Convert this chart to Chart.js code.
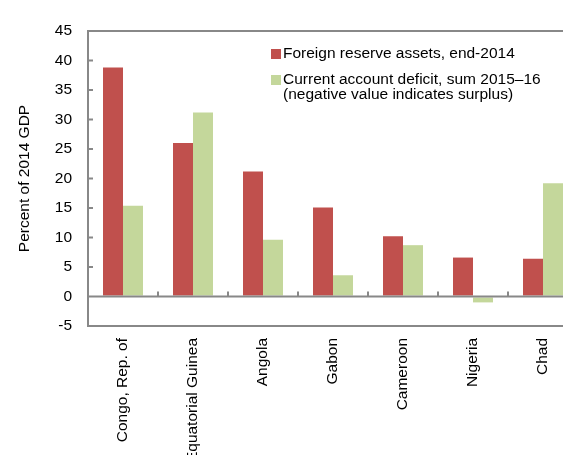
<!DOCTYPE html>
<html>
<head>
<meta charset="utf-8">
<script src="https://cdn.jsdelivr.net/npm/chart.js@4"></script>
<style>
  html, body { margin: 0; padding: 0; background: #fff; overflow: hidden; }
  #wrap { width: 600px; height: 455px; }
</style>
</head>
<body>
<div id="wrap"><canvas id="chart" width="600" height="455"></canvas></div>
<script>
// ── Data ──
const countries = ['Congo, Rep. of', 'Equatorial Guinea', 'Angola', 'Gabon', 'Cameroon', 'Nigeria', 'Chad'];
const reserves = [38.8, 26.0, 21.2, 15.1, 10.2, 6.6, 6.4];
const deficit = [15.4, 31.2, 9.6, 3.6, 8.7, -1.0, 19.2];
const yMin = -5;
const yMax = 45;
const yStep = 5;
const reservesLegend = ['Foreign reserve assets, end-2014'];
const deficitLegend = ['Current account deficit, sum 2015\u201316', '(negative value indicates surplus)'];

const FONT = '"Liberation Sans", Arial, sans-serif';
const FONT_SIZE = 15.5;
const AXIS_GREY = '#888888';
const RED = '#C0504D';
const GREEN = '#C4D79B';

Chart.defaults.font.family = FONT;
Chart.defaults.font.size = FONT_SIZE;
Chart.defaults.color = '#000';

// ── Axis decorations: inward ticks, zero line, category ticks ──
const axisDecor = {
  id: 'axisDecor',
  afterDatasetsDraw(chart) {
    const { ctx, chartArea, scales: { x, y } } = chart;
    const y0 = y.getPixelForValue(0);
    ctx.save();
    ctx.strokeStyle = AXIS_GREY;
    ctx.lineWidth = 2;
    ctx.beginPath();
    // zero line over the bars
    ctx.moveTo(chartArea.left, y0);
    ctx.lineTo(chartArea.right, y0);
    // y ticks pointing in
    y.ticks.forEach(t => {
      const py = y.getPixelForValue(t.value);
      ctx.moveTo(chartArea.left, py);
      ctx.lineTo(chartArea.left + 5, py);
    });
    // category separators on the zero line
    for (let i = 0; i < countries.length - 1; i++) {
      const px = (x.getPixelForTick(i) + x.getPixelForTick(i + 1)) / 2;
      ctx.moveTo(px, y0);
      ctx.lineTo(px, y0 - 5);
    }
    ctx.stroke();
    ctx.restore();
  }
};

// ── Legend inside the plot ──
const boxLegend = {
  id: 'boxLegend',
  afterDraw(chart) {
    const ctx = chart.ctx;
    const entries = [
      { lines: reservesLegend, color: chart.data.datasets[0].backgroundColor, y: 54 },
      { lines: deficitLegend, color: chart.data.datasets[1].backgroundColor, y: 80 }
    ];
    ctx.save();
    ctx.font = FONT_SIZE + 'px ' + FONT;
    ctx.textBaseline = 'middle';
    entries.forEach(e => {
      ctx.fillStyle = e.color;
      ctx.fillRect(271, e.y - 5, 10, 10);
      ctx.fillStyle = '#000';
      e.lines.forEach((line, i) => {
        ctx.fillText(line, 283, e.y + i * 14.5);
      });
    });
    ctx.restore();
  }
};

const ctx = document.getElementById('chart').getContext('2d');
new Chart(ctx, {
  type: 'bar',
  data: {
    labels: countries,
    datasets: [
      {
        label: reservesLegend.join(' '),
        data: reserves,
        backgroundColor: RED,
        borderWidth: 0,
        categoryPercentage: 40 / 70,
        barPercentage: 1
      },
      {
        label: deficitLegend.join(' '),
        data: deficit,
        backgroundColor: GREEN,
        borderWidth: 0,
        categoryPercentage: 40 / 70,
        barPercentage: 1
      }
    ]
  },
  options: {
    responsive: false,
    animation: false,
    devicePixelRatio: 1,
    layout: { padding: { left: 0, top: 31, right: 22, bottom: 0 } },
    plugins: {
      legend: { display: false },
      tooltip: { enabled: false },
      title: { display: false }
    },
    scales: {
      x: {
        grid: { display: false, drawTicks: false },
        border: { display: false },
        ticks: {
          autoSkip: false,
          minRotation: 90,
          maxRotation: 90,
          padding: 12,
          color: '#000'
        },
        afterFit(scale) { scale.height = 129; }
      },
      y: {
        min: yMin,
        max: yMax,
        ticks: {
          stepSize: yStep,
          padding: 16,
          color: '#000'
        },
        grid: {
          drawTicks: false,
          lineWidth: 2,
          color: c => (c.tick && (c.tick.value === yMax || c.tick.value === yMin)) ? AXIS_GREY : 'rgba(0,0,0,0)'
        },
        border: { display: true, color: AXIS_GREY, width: 2 },
        title: {
          display: true,
          text: 'Percent of 2014 GDP',
          color: '#000',
          padding: { top: 15, bottom: 0 }
        },
        afterFit(scale) { scale.width = 88; }
      }
    }
  },
  plugins: [axisDecor, boxLegend]
});
</script>
</body>
</html>
